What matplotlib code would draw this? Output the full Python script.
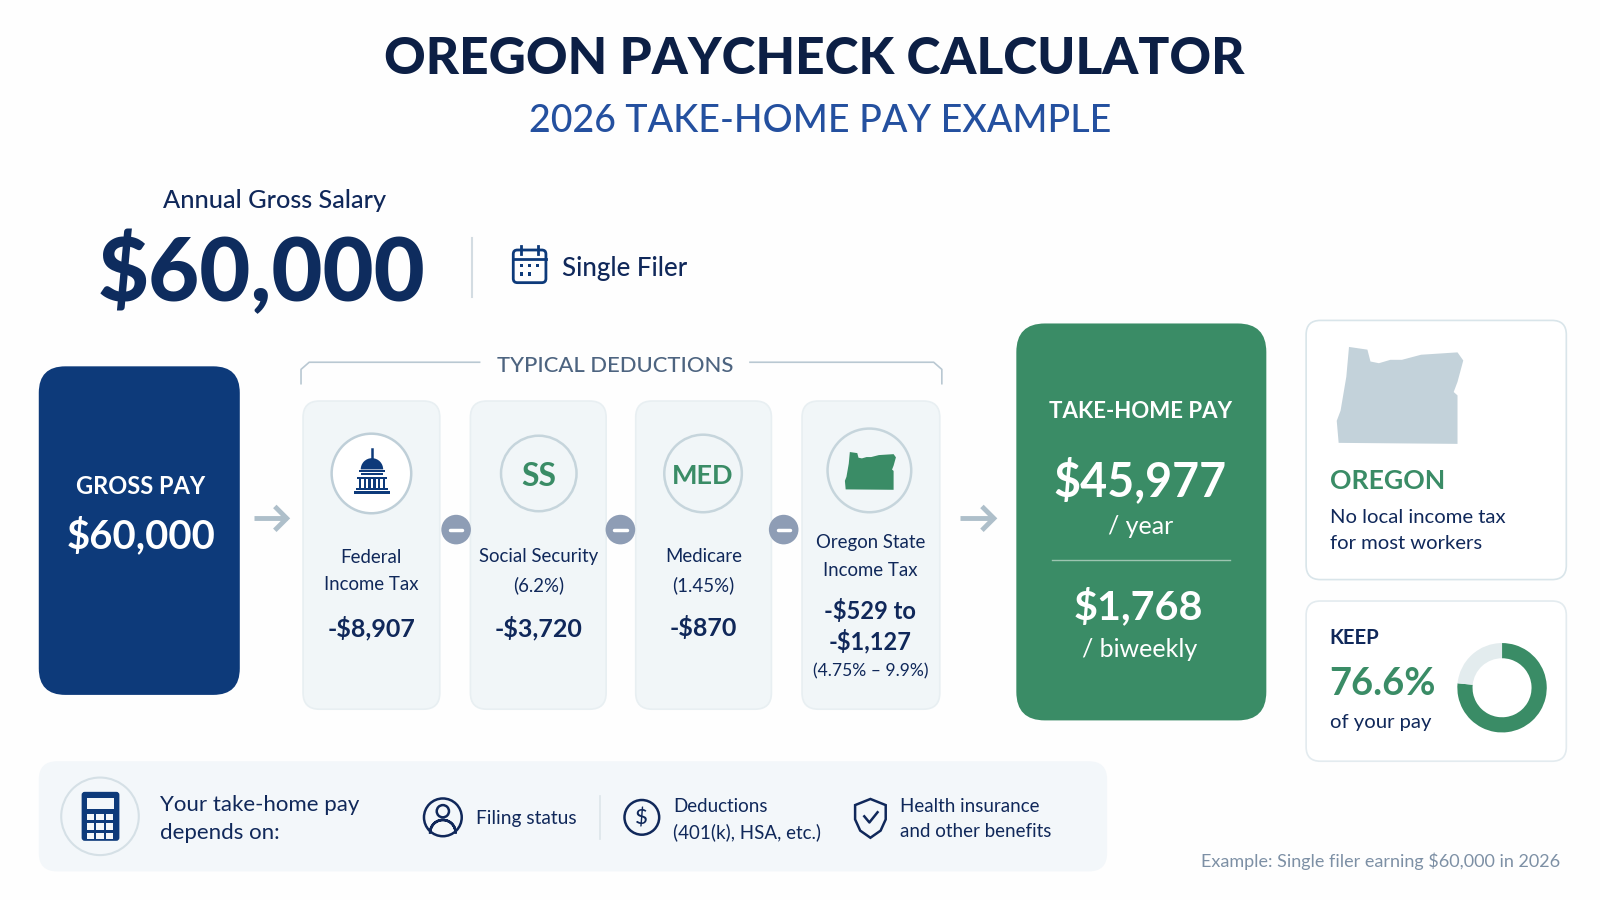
import matplotlib
matplotlib.use("Agg")
import matplotlib.pyplot as plt
from matplotlib.patches import FancyBboxPatch, Circle, Rectangle, Polygon, Wedge

plt.rcParams["font.family"] = ["Lato", "DejaVu Sans"]

# values
gross_pay = "$60,000"
filing = "Single Filer"
deduction_names = ["Federal\nIncome Tax", "Social Security\n(6.2%)", "Medicare\n(1.45%)"]
deduction_amounts = ["-$8,907", "-$3,720", "-$870"]
state_name = "Oregon State\nIncome Tax"
state_amount = "-$529 to\n-$1,127"
state_rate = "(4.75% – 9.9%)"
take_home_year = "$45,977"
take_home_biweekly = "$1,768"
keep_pct = 76.6
rest_pct = 100 - keep_pct

NAVY = "#10285a"
BLUE = "#0d3a7a"
GREEN = "#3a8c66"
CARD = "#f1f6f8"
EDGE = "#e8eff2"
GREY = "#aebfca"

# outline of the state
oregon_x = [912, 960, 968, 990, 1020, 1050, 1100, 1195, 1210, 1195, 1185, 1195, 1195, 885, 880, 890, 905]
oregon_y = [112, 120, 155, 160, 150, 150, 135, 128, 152, 215, 245, 255, 398, 395, 330, 300, 200]

fig = plt.figure(figsize=(16, 9), dpi=100, facecolor="#fefefe")
ax = fig.add_axes([0, 0, 1, 1])
ax.set_xlim(0, 1568)
ax.set_ylim(882, 0)
ax.axis("off")


def box(x0, y0, x1, y1, r, fc, ec="none", lw=1.2):
    ax.add_patch(FancyBboxPatch((x0, y0), x1 - x0, y1 - y0, boxstyle=f"round,pad=0,rounding_size={r}",
                                fc=fc, ec=ec, lw=lw))


def txt(x, y, s, size, color=NAVY, weight="normal", ha="center", **kw):
    ax.text(x, y + 1.5, s, fontsize=size, color=color, fontweight=weight, ha=ha, va="center", **kw)


def oregon(x0, y0, x1, y1, color):
    xmin, xmax = min(oregon_x), max(oregon_x)
    ymin, ymax = min(oregon_y), max(oregon_y)
    pts = [(x0 + (a - xmin) / (xmax - xmin) * (x1 - x0), y0 + (b - ymin) / (ymax - ymin) * (y1 - y0))
           for a, b in zip(oregon_x, oregon_y)]
    ax.add_patch(Polygon(pts, closed=True, fc=color, ec="none"))


def arrow(x0, x1, y):
    ax.plot([x0, x1 - 1], [y, y], color=GREY, lw=3.5, solid_capstyle="butt")
    ax.plot([x1 - 11, x1 - 1, x1 - 11], [y - 10, y, y + 10], color=GREY, lw=3.5, solid_joinstyle="miter")


# title
txt(798, 57, "OREGON PAYCHECK CALCULATOR", 37, color="#0c1f45", weight="black")
txt(804, 118, "2026 TAKE-HOME PAY EXAMPLE", 27, color="#24509f", weight="medium")

# header
txt(269, 195, "Annual Gross Salary", 18.2, weight="medium")
txt(256, 266, gross_pay, 63.5, color="#0e2c5e", weight="black")
ax.plot([463, 463], [233, 291], color="#d3dce2", lw=1.5)
box(503, 245, 535, 277, 4, "none", ec=BLUE, lw=2)
ax.plot([503, 535], [254, 254], color=BLUE, lw=2)
ax.plot([511, 511], [241, 249], color=BLUE, lw=2)
ax.plot([527, 527], [241, 249], color=BLUE, lw=2)
for cx in [511, 519, 527]:
    ax.add_patch(Rectangle((cx - 1.5, 259), 3, 3, fc=BLUE))
for cx in [511, 519]:
    ax.add_patch(Rectangle((cx - 1.5, 267), 3, 3, fc=BLUE))
txt(551, 262, filing, 18.6, weight="medium", ha="left")

# gross box
box(38, 359, 235, 681, 26, BLUE)
txt(138, 475, "GROSS PAY", 17, color="white", weight="bold")
txt(138, 524, gross_pay, 28.8, color="white", weight="bold")
arrow(249, 282, 508)

# bracket over the deductions
ax.plot([295, 295, 303, 470], [376, 362, 355, 355], color="#b9c8d2", lw=1.2)
ax.plot([735, 915, 923, 923], [355, 355, 362, 376], color="#b9c8d2", lw=1.2)
txt(603, 357, "TYPICAL DEDUCTIONS", 15.8, color="#4d6480", weight="medium")

# deduction cards
card_x = [(297, 431), (461, 594), (623, 756), (786, 921)]
for x0, x1 in card_x:
    box(x0, 393, x1, 695, 16, CARD, ec=EDGE)

ax.add_patch(Circle((364, 464), 39, fc="white", ec="#bfcfd8", lw=1.8))
ax.add_patch(Circle((528, 464), 37, fc=CARD, ec="#c6d5dc", lw=1.8))
ax.add_patch(Circle((689, 464), 38, fc=CARD, ec="#c6d5dc", lw=1.8))
ax.add_patch(Circle((852, 461), 41, fc=CARD, ec="#c6d5dc", lw=1.8))

# capitol
ax.add_patch(Wedge((364.5, 460), 11, 180, 360, fc=BLUE))
ax.plot([364.5, 364.5], [440, 452], color=BLUE, lw=1.8)
ax.add_patch(Rectangle((352, 461), 25, 2, fc=BLUE))
ax.add_patch(Rectangle((354, 464), 21, 1.5, fc=BLUE))
ax.add_patch(Rectangle((350, 467), 29, 2, fc=BLUE))
for cx in [352, 356.5, 361, 366, 370.5, 375]:
    ax.add_patch(Rectangle((cx, 469), 2.2, 9, fc=BLUE))
ax.add_patch(Rectangle((349, 478), 31, 2, fc=BLUE))
ax.add_patch(Rectangle((347, 481), 35, 3, fc=BLUE))

txt(528, 465, "SS", 23, color=GREEN, weight="bold")
txt(689, 465, "MED", 19.5, color=GREEN, weight="bold")
oregon(828, 443, 878, 480, GREEN)

for (x0, x1), name, amount in zip(card_x, deduction_names, deduction_amounts):
    cx = (x0 + x1) / 2
    txt(cx, 558, name, 13.4, linespacing=1.75)
    txt(cx, 614, amount, 18, weight="bold")
txt(853, 544, state_name, 13.4, linespacing=1.75)
txt(853, 612, state_amount, 17, weight="bold", linespacing=1.3)
txt(853, 656, state_rate, 12.6)

for cx in [447, 608, 768]:
    ax.add_patch(Circle((cx, 519), 14.5, fc="#8e9db5", ec="none"))
    ax.plot([cx - 6, cx + 6], [519, 519], color="white", lw=2.5, solid_capstyle="round")
arrow(941, 975, 508)

# take-home box
box(996, 317, 1241, 706, 28, GREEN)
txt(1118, 402, "TAKE-HOME PAY", 16, color="white", weight="bold")
txt(1117, 470, take_home_year, 33.6, color="white", weight="bold")
txt(1118, 514, "/ year", 18, color="white")
ax.plot([1031, 1205], [549, 549], color="#9cc5b1", lw=1)
txt(1116, 593, take_home_biweekly, 29.7, color="white", weight="bold")
txt(1117, 635, "/ biweekly", 18, color="white")

# oregon card
box(1280, 314, 1535, 568, 14, "white", ec="#d9e5ea")
oregon(1310, 340, 1434, 435, "#c3d2da")
txt(1303, 470, "OREGON", 19.2, color=GREEN, weight="bold", ha="left")
txt(1303, 506, "No local income tax", 14.6, ha="left")
txt(1303, 531, "for most workers", 14.6, ha="left")

# keep card with donut
box(1280, 589, 1535, 746, 14, "white", ec="#e3ebef")
txt(1303, 624, "KEEP", 14.6, weight="bold", ha="left")
txt(1303, 669, f"{keep_pct}%", 27.4, color=GREEN, weight="bold", ha="left")
txt(1303, 707, "of your pay", 14.6, ha="left")
dax = fig.add_axes([(1472 - 46) / 1568, 1 - (674 + 46) / 882, 92 / 1568, 92 / 882])
dax.pie([keep_pct, rest_pct], colors=[GREEN, "#e3ecee"], startangle=90, counterclock=False,
        radius=1, wedgeprops={"width": 0.34, "linewidth": 0})
dax.set_xlim(-1.05, 1.05)
dax.set_ylim(-1.05, 1.05)
dax.set_aspect("equal")

# bottom strip
box(38, 746, 1085, 854, 18, "#f3f7fa")
ax.add_patch(Circle((98, 800), 38, fc="#f3f7fa", ec="#d5e0e6", lw=1.5))
box(80, 776, 117, 824, 3, BLUE)
ax.add_patch(Rectangle((85, 782), 27, 11, fc="#f3f7fa"))
for cy in [798, 807, 816]:
    for cx in [85, 94.5, 104]:
        ax.add_patch(Rectangle((cx, cy), 7, 6, fc="#f3f7fa"))
txt(157, 787, "Your take-home pay", 16, ha="left")
txt(157, 815, "depends on:", 16, ha="left")

ax.add_patch(Circle((434, 801), 18.5, fc="none", ec=NAVY, lw=1.8))
ax.add_patch(Circle((434, 795), 6, fc="none", ec=NAVY, lw=1.8))
ax.add_patch(Wedge((434, 816), 12.5, 180, 360, width=0.1, fc="none", ec=NAVY, lw=1.8))
txt(466, 801, "Filing status", 13.8, ha="left")
ax.plot([588, 588], [780, 822], color="#dde5ea", lw=1.2)

ax.add_patch(Circle((629, 801), 17, fc="none", ec=NAVY, lw=1.8))
txt(629, 801, "$", 16, ha="center", weight="medium")
txt(660, 789, "Deductions", 13.5, ha="left")
txt(660, 814, "(401(k), HSA, etc.)", 13.5, ha="left")

shield = [(853, 783), (868, 789), (868, 803), (863, 814), (853, 821), (843, 814), (838, 803), (838, 789)]
ax.add_patch(Polygon(shield, closed=True, fc="none", ec=NAVY, lw=1.8))
ax.plot([847, 852, 860], [800, 806, 796], color=NAVY, lw=1.8)
txt(882, 789, "Health insurance", 13.5, ha="left")
txt(882, 813, "and other benefits", 13.5, ha="left")

txt(1529, 843, "Example: Single filer earning $60,000 in 2026", 12.95, color="#7d90a5", ha="right")

fig.savefig("out.png", dpi=100, facecolor=fig.get_facecolor())
